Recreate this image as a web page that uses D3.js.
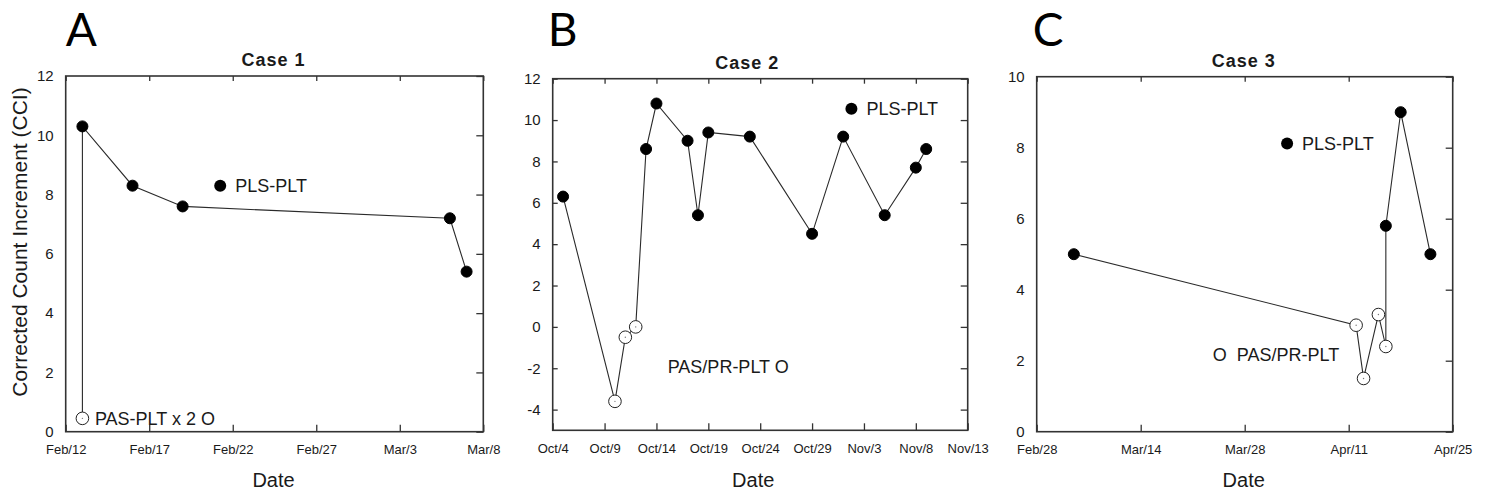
<!DOCTYPE html>
<html>
<head>
<meta charset="utf-8">
<script src="https://cdn.jsdelivr.net/npm/d3@7"></script>
<style>
  body { margin: 0; background: #fff; }
  svg { display: block; }
  text { font-family: Arial, "Liberation Sans", sans-serif; fill: #1a1a1a; }
</style>
</head>
<body>
<div id="chart"></div>
<script>
// ---- data ----
var case1Dates  = ["2016-02-13","2016-02-13","2016-02-16","2016-02-19","2016-03-06","2016-03-07"];
var case1Values = [0.45, 10.3, 8.3, 7.6, 7.2, 5.4];
var case1Open   = [true, false, false, false, false, false];
var case1Ticks  = ["2016-02-12","2016-02-17","2016-02-22","2016-02-27","2016-03-03","2016-03-08"];

var case2Dates  = ["2016-10-05","2016-10-10","2016-10-11","2016-10-12","2016-10-13","2016-10-14","2016-10-17","2016-10-18",
                   "2016-10-19","2016-10-23","2016-10-29","2016-11-01","2016-11-05","2016-11-08","2016-11-09"];
var case2Values = [6.3, -3.6, -0.5, 0, 8.6, 10.8, 9.0, 5.4, 9.4, 9.2, 4.5, 9.2, 5.4, 7.7, 8.6];
var case2Open   = [false, true, true, true, false, false, false, false, false, false, false, false, false, false, false];
var case2Ticks  = ["2016-10-04","2016-10-09","2016-10-14","2016-10-19","2016-10-24","2016-10-29","2016-11-03","2016-11-08","2016-11-13"];

var case3Dates  = ["2017-03-05","2017-04-12","2017-04-13","2017-04-15","2017-04-16","2017-04-16","2017-04-18","2017-04-22"];
var case3Values = [5.0, 3.0, 1.5, 3.3, 2.4, 5.8, 9.0, 5.0];
var case3Open   = [false, true, true, true, true, false, false, false];
var case3Ticks  = ["2017-02-28","2017-03-14","2017-03-28","2017-04-11","2017-04-25"];

var parseDay  = d3.timeParse("%Y-%m-%d");
var parseTime = d3.timeParse("%Y-%m-%d %H:%M");
var fmt = d3.timeFormat("%b/%-d");

var W = 1493, H = 498;
var svg = d3.select("#chart").append("svg").attr("width", W).attr("height", H);

var panels = [
  { letter: "A", title: "Case 1", dates: case1Dates, values: case1Values, open: case1Open, ticks: case1Ticks,
    xDomain: ["2016-02-12","2016-03-08"], yDomain: [0, 12], yTicks: d3.range(0, 13, 2),
    left: 65.7, right: 483.3, top: 76, bottom: 431.7, leftTicks: false, letterDx: 0, titleDx: -1, dateDx: -1,
    pls: ["2016-02-21 06:00", 8.3], pas: ["2016-02-13 18:00", 0.45], pasText: "PAS-PLT x 2 O" },
  { letter: "B", title: "Case 2", dates: case2Dates, values: case2Values, open: case2Open, ticks: case2Ticks,
    xDomain: ["2016-10-04","2016-11-13"], yDomain: [-5, 12], yTicks: d3.range(-4, 13, 2),
    left: 552.7, right: 967.7, top: 78.7, bottom: 430.3, leftTicks: true, letterDx: -5, titleDx: -13, dateDx: -7,
    pls: ["2016-11-01 19:00", 10.55], pas: ["2016-10-15 02:00", -1.93], pasText: "PAS/PR-PLT O" },
  { letter: "C", title: "Case 3", dates: case3Dates, values: case3Values, open: case3Open, ticks: case3Ticks,
    xDomain: ["2017-02-28","2017-04-25"], yDomain: [0, 10], yTicks: d3.range(0, 11, 2),
    left: 1036.7, right: 1452.7, top: 76.7, bottom: 431.7, leftTicks: false, letterDx: -4, titleDx: -1, dateDx: -1,
    pls: ["2017-04-02 17:00", 8.12], pas: ["2017-03-23 17:00", 2.16], pasText: "O  PAS/PR-PLT" }
];

panels.forEach(drawPanel);

// y axis title (panel A only)
svg.append("text")
  .attr("transform", "translate(27,242) rotate(-90)")
  .attr("text-anchor", "middle")
  .style("font-size", "21px")
  .text("Corrected Count Increment (CCI)");

function drawPanel(p) {
  var x = d3.scaleTime().domain(p.xDomain.map(parseDay)).range([p.left, p.right]);
  var y = d3.scaleLinear().domain(p.yDomain).range([p.bottom, p.top]);
  var g = svg.append("g");

  var pts = p.dates.map(function(d, i) {
    return { date: parseDay(d), value: p.values[i], open: p.open[i] };
  });

  // bottom axis with labels, inward ticks
  var bx = g.append("g").attr("transform", "translate(0," + p.bottom + ")")
    .call(d3.axisBottom(x).tickValues(p.ticks.map(parseDay)).tickFormat(fmt).tickSize(-7).tickPadding(13));
  bx.selectAll("text").style("font-size", "13px").style("fill", "#1a1a1a");

  // top axis, ticks only
  g.append("g").attr("transform", "translate(0," + p.top + ")")
    .call(d3.axisTop(x).tickValues(p.ticks.map(parseDay)).tickFormat("").tickSize(-5));

  // left axis with labels (plain hyphen for negatives, as in the figure)
  var ly = g.append("g").attr("transform", "translate(" + p.left + ",0)")
    .call(d3.axisLeft(y).tickValues(p.yTicks).tickFormat(function(d) { return String(d); })
      .tickSize(p.leftTicks ? -5 : 0).tickPadding(12));
  ly.selectAll("text").style("font-size", "15px").style("fill", "#1a1a1a");

  // right axis, ticks only
  g.append("g").attr("transform", "translate(" + p.right + ",0)")
    .call(d3.axisRight(y).tickValues(p.yTicks).tickFormat("").tickSize(-7));

  g.selectAll(".domain").remove();
  g.selectAll(".tick line").attr("stroke", "#333").attr("stroke-width", 1.3);

  // frame
  g.append("rect")
    .attr("x", p.left).attr("y", p.top)
    .attr("width", p.right - p.left).attr("height", p.bottom - p.top)
    .attr("fill", "none").attr("stroke", "#333").attr("stroke-width", 1.6);

  // connecting line
  var line = d3.line().x(function(d) { return x(d.date); }).y(function(d) { return y(d.value); });
  g.append("path").datum(pts)
    .attr("d", line).attr("fill", "none").attr("stroke", "#2a2a2a").attr("stroke-width", 1.1);

  // markers
  g.selectAll("circle.pt").data(pts).enter().append("circle")
    .attr("class", "pt")
    .attr("cx", function(d) { return x(d.date); })
    .attr("cy", function(d) { return y(d.value); })
    .attr("r", function(d) { return d.open ? 6.3 : 5.5; })
    .attr("fill", function(d) { return d.open ? "#fff" : "#000"; })
    .attr("stroke", function(d) { return d.open ? "#222" : "#000"; })
    .attr("stroke-width", 1);
  g.selectAll("circle.ctr").data(pts.filter(function(d) { return d.open; })).enter().append("circle")
    .attr("class", "ctr")
    .attr("cx", function(d) { return x(d.date); })
    .attr("cy", function(d) { return y(d.value); })
    .attr("r", 0.7).attr("fill", "#777");

  // legend annotations
  var plsX = x(parseTime(p.pls[0])), plsY = y(p.pls[1]);
  g.append("circle").attr("cx", plsX).attr("cy", plsY).attr("r", 6).attr("fill", "#000");
  g.append("text").attr("x", plsX + 15).attr("y", plsY).attr("dy", "0.35em")
    .style("font-size", "18px").text("PLS-PLT");
  var pasX = x(parseTime(p.pas[0])), pasY = y(p.pas[1]);
  g.append("text").attr("x", pasX).attr("y", pasY).attr("dy", "0.35em")
    .style("font-size", "18px").style("white-space", "pre").text(p.pasText);

  // titles
  var cx = (p.left + p.right) / 2;
  g.append("text").attr("x", cx + p.titleDx).attr("y", p.top - 10)
    .attr("text-anchor", "middle")
    .style("font-size", "18px").style("font-weight", "bold").style("letter-spacing", "1px")
    .text(p.title);
  g.append("text").attr("x", cx + p.dateDx).attr("y", 487)
    .attr("text-anchor", "middle").style("font-size", "20px").text("Date");
  g.append("text").attr("x", p.left + p.letterDx).attr("y", 46)
    .style("font-family", "Lato, 'Open Sans', sans-serif").style("font-size", "46px").style("fill", "#000")
    .text(p.letter);
}
</script>
</body>
</html>
